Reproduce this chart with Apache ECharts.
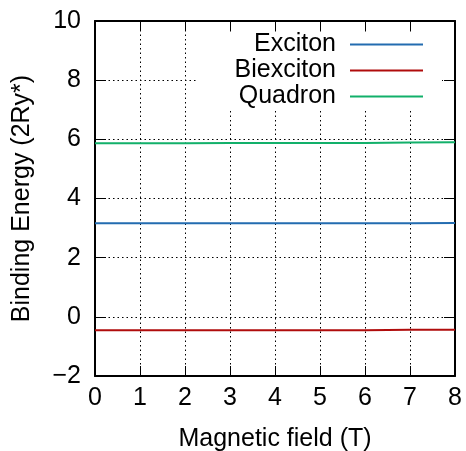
<!DOCTYPE html>
<html>
<head>
<meta charset="utf-8">
<script src="https://cdn.jsdelivr.net/npm/echarts@6/dist/echarts.min.js"></script>
<style>
  html, body { margin: 0; padding: 0; background: #fff; }
  #chart { width: 466px; height: 451px; }
</style>
</head>
<body>
<div id="chart"></div>
<script>
// magnetic field (T)
var fields = [0, 1, 2, 3, 4, 5, 6, 7, 8];
// binding energies (2Ry*)
var exciton = [3.16, 3.16, 3.16, 3.16, 3.16, 3.16, 3.16, 3.16, 3.17];
var biexciton = [-0.45, -0.45, -0.45, -0.45, -0.45, -0.45, -0.45, -0.44, -0.44];
var quadron = [5.87, 5.87, 5.87, 5.88, 5.88, 5.88, 5.88, 5.89, 5.90];
var xTicks = [0, 8, 1];
var yTicks = [-2, 10, 2];

var names = ['Exciton', 'Biexciton', 'Quadron'];
var colors = ['#236cb0', '#b00c0c', '#12b06a'];
var values = [exciton, biexciton, quadron];

var chartDom = document.getElementById('chart');
var myChart = echarts.init(chartDom);
var font = 'Liberation Sans, Arial, Helvetica, sans-serif';
var fs = 25;
var dotted = { color: '#000', width: 1, type: [1.5, 3] };

function pairs(ys) {
	return fields.map(function (x, i) { return [x, ys[i]]; });
}

var option = {
	animation: false,
	textStyle: { fontFamily: font },
	grid: { left: 95, right: 11, top: 21, bottom: 75, outerBoundsMode: 'none' },
	graphic: [
		{
			type: 'rect',
			z: 50,
			shape: { x: 197, y: 33, width: 245, height: 77 },
			style: { fill: '#fff' }
		}
	],
	legend: names.map(function (n, i) {
		return {
			data: [n],
			right: 43,
			top: 32 + i * 26,
			align: 'right',
			padding: 0,
			z: 60,
			icon: 'rect',
			itemWidth: 73,
			itemHeight: 2,
			selectedMode: false,
			textStyle: { fontSize: fs, color: '#000', fontFamily: font, padding: [0, 9, 0, 0] }
		};
	}),
	xAxis: [
		{
			type: 'value',
			min: xTicks[0],
			max: xTicks[1],
			interval: xTicks[2],
			position: 'bottom',
			name: 'Magnetic field (T)',
			nameLocation: 'middle',
			nameGap: 51,
			nameTextStyle: { fontSize: fs, color: '#000', fontFamily: font },
			axisLine: { onZero: false, lineStyle: { color: '#000', width: 2 } },
			axisTick: { inside: true, length: 10, lineStyle: { color: '#000', width: 1 } },
			axisLabel: { fontSize: fs, color: '#000', margin: 10, fontFamily: font },
			splitLine: { show: true, lineStyle: dotted }
		},
		{
			type: 'value',
			min: xTicks[0],
			max: xTicks[1],
			interval: xTicks[2],
			position: 'top',
			axisLine: { onZero: false, lineStyle: { color: '#000', width: 2 } },
			axisTick: { inside: true, length: 10, lineStyle: { color: '#000', width: 1 } },
			axisLabel: { show: false },
			splitLine: { show: false }
		}
	],
	yAxis: [
		{
			type: 'value',
			min: yTicks[0],
			max: yTicks[1],
			interval: yTicks[2],
			position: 'left',
			name: 'Binding Energy (2Ry*)',
			nameLocation: 'middle',
			nameGap: 60,
			nameTextStyle: { fontSize: fs, color: '#000', fontFamily: font },
			axisLine: { onZero: false, lineStyle: { color: '#000', width: 2 } },
			axisTick: { inside: true, length: 11, lineStyle: { color: '#000', width: 1 } },
			axisLabel: {
				fontSize: fs, color: '#000', margin: 14, fontFamily: font,
				formatter: function (v) { return v < 0 ? '\u2212' + (-v) : String(v); }
			},
			splitLine: { show: true, lineStyle: dotted }
		},
		{
			type: 'value',
			min: yTicks[0],
			max: yTicks[1],
			interval: yTicks[2],
			position: 'right',
			axisLine: { onZero: false, lineStyle: { color: '#000', width: 2 } },
			axisTick: { inside: true, length: 11, lineStyle: { color: '#000', width: 1 } },
			axisLabel: { show: false },
			splitLine: { show: false }
		}
	],
	series: names.map(function (n, i) {
		return {
			name: n,
			type: 'line',
			z: 70,
			data: pairs(values[i]),
			showSymbol: false,
			symbol: 'none',
			color: colors[i],
			lineStyle: { color: colors[i], width: 2 }
		};
	})
};

option && myChart.setOption(option);
</script>
</body>
</html>
